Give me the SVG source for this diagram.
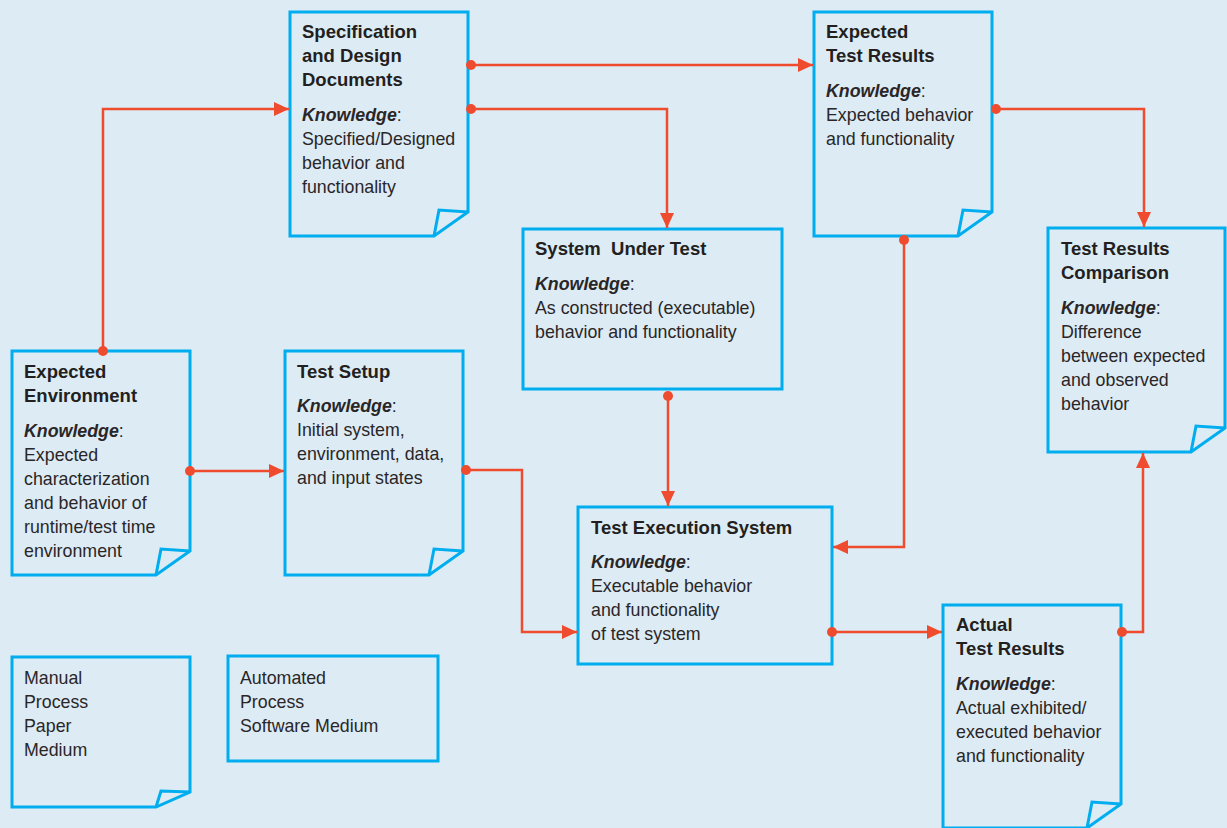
<svg xmlns="http://www.w3.org/2000/svg" width="1227" height="828" viewBox="0 0 1227 828">
<style>
.bg{fill:#DDEBF5}
.box{fill:#DDEBF5;stroke:#00AEEF;stroke-width:3;stroke-linejoin:miter}
.fold{fill:none;stroke:#00AEEF;stroke-width:3;stroke-linejoin:miter}
text{font-family:"Liberation Sans",Arial,sans-serif;font-size:17.8px;fill:#2A2627}
.t{font-weight:bold;font-size:18.5px;fill:#231F20}
.k{font-weight:bold;font-style:italic}
.c{fill:none;stroke:#EF4B2F;stroke-width:2.5}
.dot{fill:#EF4B2F}
</style>
<defs>
<marker id="ah" markerUnits="userSpaceOnUse" markerWidth="16" markerHeight="15" refX="15" refY="7" orient="auto">
<path d="M0,0 L15,7 L0,14 Z" fill="#EF4B2F"/>
</marker>
</defs>
<rect class="bg" x="0" y="0" width="1227" height="828"/>

<g id="spec-design">
<path class="box" d="M290,12 H468 V212 L434,236 H290 Z"/>
<path class="fold" d="M468,212 L439,210 L434,236"/>
<text class="t" x="302" y="38">Specification</text>
<text class="t" x="302" y="62">and Design</text>
<text class="t" x="302" y="86">Documents</text>
<text x="302" y="121"><tspan class="k">Knowledge</tspan>:</text>
<text x="302" y="145">Specified/Designed</text>
<text x="302" y="169">behavior and</text>
<text x="302" y="193">functionality</text>
</g>

<g id="expected-test-results">
<path class="box" d="M814,12 H992 V212 L958,236 H814 Z"/>
<path class="fold" d="M992,212 L963,210 L958,236"/>
<text class="t" x="826" y="38">Expected</text>
<text class="t" x="826" y="62">Test Results</text>
<text x="826" y="97"><tspan class="k">Knowledge</tspan>:</text>
<text x="826" y="121">Expected behavior</text>
<text x="826" y="145">and functionality</text>
</g>

<g id="system-under-test">
<rect class="box" x="523" y="229" width="259" height="160"/>
<text class="t" x="535" y="255" style="white-space:pre">System  Under Test</text>
<text x="535" y="290"><tspan class="k">Knowledge</tspan>:</text>
<text x="535" y="314">As constructed (executable)</text>
<text x="535" y="338">behavior and functionality</text>
</g>

<g id="test-results-comparison">
<path class="box" d="M1048,228 H1225 V428 L1191,452 H1048 Z"/>
<path class="fold" d="M1225,428 L1196,426 L1191,452"/>
<text class="t" x="1061" y="255">Test Results</text>
<text class="t" x="1061" y="279">Comparison</text>
<text x="1061" y="314"><tspan class="k">Knowledge</tspan>:</text>
<text x="1061" y="338">Difference</text>
<text x="1061" y="362">between expected</text>
<text x="1061" y="386">and observed</text>
<text x="1061" y="410">behavior</text>
</g>

<g id="expected-environment">
<path class="box" d="M12,351 H190 V551 L156,575 H12 Z"/>
<path class="fold" d="M190,551 L161,549 L156,575"/>
<text class="t" x="24" y="378">Expected</text>
<text class="t" x="24" y="402">Environment</text>
<text x="24" y="437"><tspan class="k">Knowledge</tspan>:</text>
<text x="24" y="461">Expected</text>
<text x="24" y="485">characterization</text>
<text x="24" y="509">and behavior of</text>
<text x="24" y="533">runtime/test time</text>
<text x="24" y="557">environment</text>
</g>

<g id="test-setup">
<path class="box" d="M285,351 H463 V551 L429,575 H285 Z"/>
<path class="fold" d="M463,551 L434,549 L429,575"/>
<text class="t" x="297" y="378">Test Setup</text>
<text x="297" y="412"><tspan class="k">Knowledge</tspan>:</text>
<text x="297" y="436">Initial system,</text>
<text x="297" y="460">environment, data,</text>
<text x="297" y="484">and input states</text>
</g>

<g id="test-execution-system">
<rect class="box" x="578" y="507" width="254" height="157"/>
<text class="t" x="591" y="534">Test Execution System</text>
<text x="591" y="568"><tspan class="k">Knowledge</tspan>:</text>
<text x="591" y="592">Executable behavior</text>
<text x="591" y="616">and functionality</text>
<text x="591" y="640">of test system</text>
</g>

<g id="actual-test-results">
<path class="box" d="M943,605 H1121 V804 L1087,828 H943 Z"/>
<path class="fold" d="M1121,804 L1092,802 L1087,828"/>
<text class="t" x="956" y="631">Actual</text>
<text class="t" x="956" y="655">Test Results</text>
<text x="956" y="690"><tspan class="k">Knowledge</tspan>:</text>
<text x="956" y="714">Actual exhibited/</text>
<text x="956" y="738">executed behavior</text>
<text x="956" y="762">and functionality</text>
</g>

<g id="legend-manual">
<path class="box" d="M12,657 H190 V792 L156,807 H12 Z"/>
<path class="fold" d="M190,792 L161,791 L156,807"/>
<text x="24" y="684">Manual</text>
<text x="24" y="708">Process</text>
<text x="24" y="732">Paper</text>
<text x="24" y="756">Medium</text>
</g>

<g id="legend-automated">
<rect class="box" x="228" y="656" width="210" height="105"/>
<text x="240" y="684">Automated</text>
<text x="240" y="708">Process</text>
<text x="240" y="732">Software Medium</text>
</g>

<g id="connectors">
<path class="c" d="M468,65 H813" marker-end="url(#ah)"/>
<path class="c" d="M468,109 H667 V228" marker-end="url(#ah)"/>
<path class="c" d="M103,350 V109 H289" marker-end="url(#ah)"/>
<path class="c" d="M190,471 H284" marker-end="url(#ah)"/>
<path class="c" d="M463,470 H522 V632 H577" marker-end="url(#ah)"/>
<path class="c" d="M668,396 V506" marker-end="url(#ah)"/>
<path class="c" d="M904,240 V547 H833" marker-end="url(#ah)"/>
<path class="c" d="M832,632 H942" marker-end="url(#ah)"/>
<path class="c" d="M1121,632 H1143 V453" marker-end="url(#ah)"/>
<path class="c" d="M995,109 H1144 V227" marker-end="url(#ah)"/>
<circle class="dot" cx="471" cy="65" r="5"/>
<circle class="dot" cx="471" cy="109" r="5"/>
<circle class="dot" cx="103" cy="351" r="5"/>
<circle class="dot" cx="190" cy="471" r="5"/>
<circle class="dot" cx="466" cy="470" r="5"/>
<circle class="dot" cx="668" cy="396" r="5"/>
<circle class="dot" cx="904" cy="240" r="5"/>
<circle class="dot" cx="832" cy="632" r="5"/>
<circle class="dot" cx="1122" cy="632" r="5"/>
<circle class="dot" cx="996" cy="109" r="5"/>
</g>
</svg>
